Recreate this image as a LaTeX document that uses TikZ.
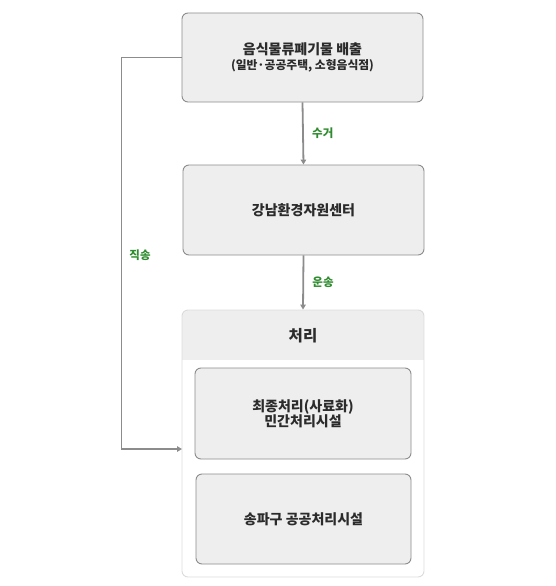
\documentclass[tikz,border=0pt]{standalone}
\usepackage{fontspec}
\setmainfont{Noto Sans CJK KR}
\usetikzlibrary{arrows.meta}
\definecolor{boxfill}{HTML}{EEEEEE}
\definecolor{boxline}{HTML}{8C8C8C}
\definecolor{frameline}{HTML}{DCDCDC}
\definecolor{txt}{HTML}{2B2B2B}
\definecolor{lbl}{HTML}{2E8B2E}
\tikzset{
    stage/.style={draw=boxline, fill=boxfill, rounded corners=6pt, line width=0.9pt,
        align=center, text=txt, font=\bfseries\fontsize{14}{19}\selectfont},
    flow/.style={draw=boxline, line width=1.8pt, -{Triangle[length=5pt,width=5.5pt]}},
    tag/.style={text=lbl, font=\bfseries\fontsize{11.5}{13}\selectfont}
}
\begin{document}
\begin{tikzpicture}[x=1pt,y=-1pt]
    \useasboundingbox (0,0) rectangle (556,586);
    % processing frame
    \begin{scope}
        \clip[rounded corners=6pt] (182,310) rectangle (424,577);
        \fill[white] (182,310) rectangle (424,577);
        \fill[boxfill] (182,310) rectangle (424,360);
    \end{scope}
    \node (proc) [draw=frameline, rounded corners=6pt, line width=0.9pt,
        minimum width=242pt, minimum height=267pt] at (303,443.5) {};
    \node[text=txt, font=\bfseries\fontsize{15.5}{17}\selectfont] (title) at (303,336) {처리};
    % stages
    \node (src) [stage, minimum width=241pt, minimum height=89pt] at (302.5,57.5)
        {음식물류폐기물 배출\\[-4pt]{\fontsize{11.8}{14}\selectfont(일반·공공주택, 소형음식점)}};
    \node (hub) [stage, minimum width=241pt, minimum height=90pt] at (303.5,210) {강남환경자원센터};
    \node (priv) [stage, minimum width=216pt, minimum height=91pt] at (303,413.5)
        {최종처리(사료화)\\[-4pt]민간처리시설};
    \node (pub) [stage, minimum width=215pt, minimum height=90pt] at (303.5,519) {송파구 공공처리시설};
    % connectors
    \coordinate (direct) at (182,449);
    \draw[flow] (src.south) -- (hub.north) node[midway, right=5pt, tag] {수거};
    \draw[flow] (hub.south) -- (proc.north) node[midway, right=5pt, tag] {운송};
    \draw[flow] (src.west) -- ++(-60,0) |- (direct);
    \node[tag] (directlbl) at (140,255) {직송};
\end{tikzpicture}
\end{document}
